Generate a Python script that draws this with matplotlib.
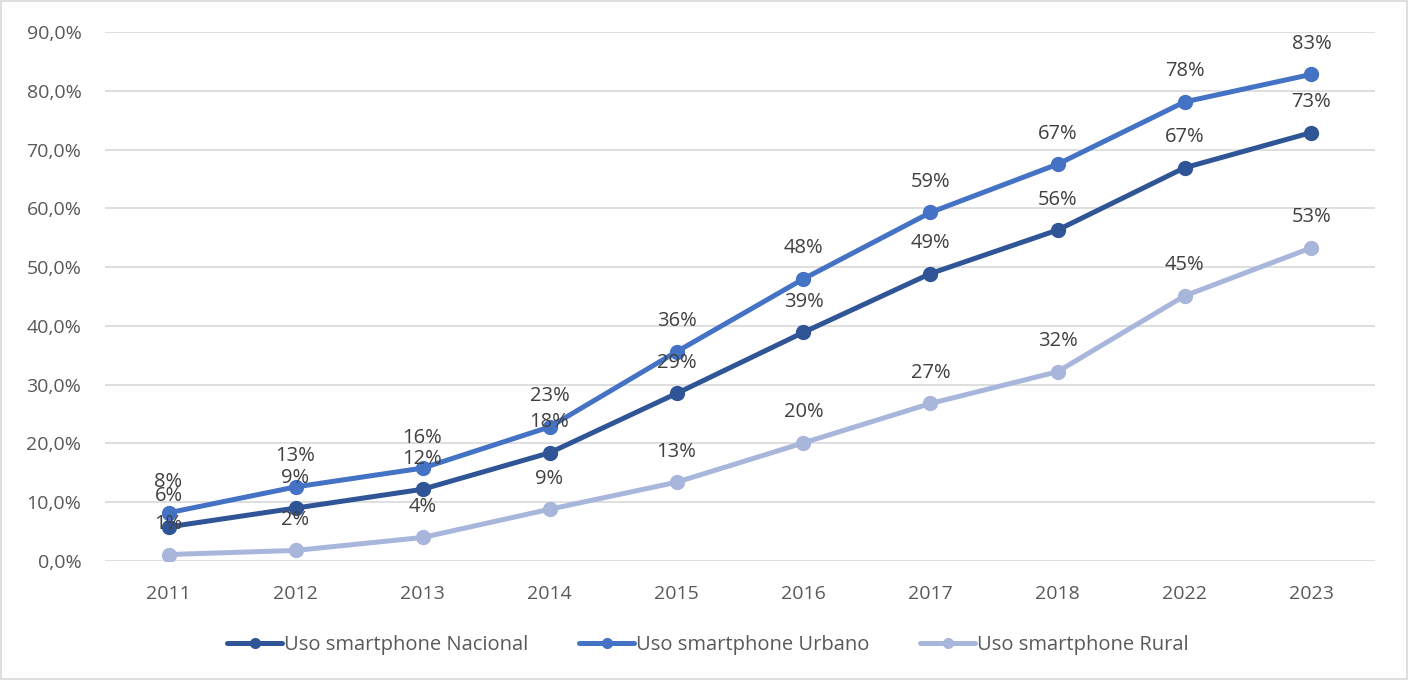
import matplotlib
matplotlib.use("Agg")
import matplotlib.pyplot as plt
from matplotlib.patches import Rectangle

years = ["2011", "2012", "2013", "2014", "2015", "2016", "2017", "2018", "2022", "2023"]
nacional = [5.8, 9.0, 12.2, 18.4, 28.5, 38.9, 48.9, 56.3, 66.9, 72.9]
urbano = [8.2, 12.6, 15.8, 22.8, 35.6, 48.0, 59.3, 67.5, 78.1, 82.8]
rural = [1.1, 1.8, 4.0, 8.8, 13.4, 20.1, 26.8, 32.2, 45.1, 53.3]
nacional_lbl = ["6%", "9%", "12%", "18%", "29%", "39%", "49%", "56%", "67%", "73%"]
urbano_lbl = ["8%", "13%", "16%", "23%", "36%", "48%", "59%", "67%", "78%", "83%"]
rural_lbl = ["1%", "2%", "4%", "9%", "13%", "20%", "27%", "32%", "45%", "53%"]
yticks = [0, 10, 20, 30, 40, 50, 60, 70, 80, 90]
ytick_labels = ["0,0%", "10,0%", "20,0%", "30,0%", "40,0%", "50,0%", "60,0%", "70,0%", "80,0%", "90,0%"]

plt.rcParams['font.family'] = ['Open Sans', 'DejaVu Sans']

fig = plt.figure(figsize=(14.1, 6.8), dpi=100)
ax = fig.add_axes([105/1410, 1-561/680, 1270/1410, (561-32)/680])

series = [
    (nacional, nacional_lbl, "#2F5597", "Uso smartphone Nacional"),
    (urbano, urbano_lbl, "#4472C4", "Uso smartphone Urbano"),
    (rural, rural_lbl, "#A9B6DC", "Uso smartphone Rural"),
]
x = list(range(len(years)))
for vals, lbls, col, name in series:
    ax.plot(x, vals, color=col, lw=3.6, marker='o', ms=10, label=name, solid_capstyle='round')
for vals, lbls, col, name in series:
    for xi, v, l in zip(x, vals, lbls):
        ax.annotate(l, (xi, v), xytext=(0, 22), textcoords='offset points',
                    ha='center', va='center', fontsize=14.5, color='#404040')

ax.set_xlim(-0.5, len(years) - 0.5)
ax.set_ylim(0, 90)
ax.set_yticks(yticks)
ax.set_yticklabels(ytick_labels)
ax.set_xticks(x)
ax.set_xticklabels(years)
ax.tick_params(axis='both', length=0, labelsize=14, labelcolor='#595959')
ax.tick_params(axis='x', pad=17)
ax.tick_params(axis='y', pad=17)
ax.grid(axis='y', color='#D9D9D9', lw=1.2)
ax.set_axisbelow(True)
for s in ax.spines.values():
    s.set_visible(False)

fig.legend(loc='center', bbox_to_anchor=(708/1410, 1-645/680), ncol=3, frameon=False,
           fontsize=14.5, labelcolor='#595959', handlelength=2.75, handletextpad=0.1,
           columnspacing=2.5, markerscale=0.7)

fig.patches.append(Rectangle((0.001, 0.002), 0.997, 0.996, transform=fig.transFigure,
                             fill=False, edgecolor='#D9D9D9', lw=1.2))

fig.savefig("out.png", dpi=100)
